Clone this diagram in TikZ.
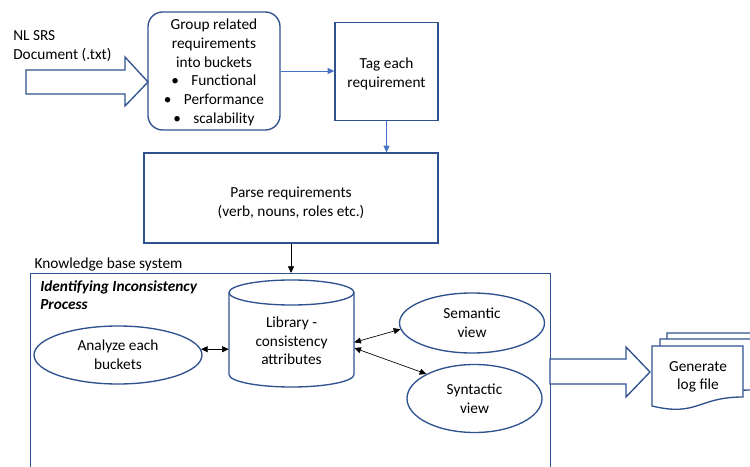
\documentclass[tikz,border=0pt]{standalone}
\usepackage{fontspec}
\setmainfont{Carlito}
\usetikzlibrary{arrows.meta,shapes.geometric,positioning}
\newdimen\pxu \pxu=0.75pt
\definecolor{boxblue}{RGB}{47,82,143}
\definecolor{linkblue}{RGB}{68,114,196}
\tikzset{
  box/.style={draw=boxblue, line width=1pt, align=center, inner sep=0pt},
  oval/.style={ellipse, draw=boxblue, line width=1pt, align=center, inner sep=0pt},
  bluelink/.style={-{Triangle[length=5pt,width=4.5pt]}, draw=linkblue, line width=0.6pt},
  blacklink/.style={-{Triangle[length=5pt,width=4.5pt]}, line width=0.5pt},
  bothlink/.style={{Triangle[length=5pt,width=4.5pt]}-{Triangle[length=5pt,width=4.5pt]}, line width=0.5pt},
  hollow/.style={draw=boxblue, line width=1pt, fill=white},
}
\begin{document}
\begin{tikzpicture}[x=0.75pt, y=-0.75pt, font=\fontsize{11.5}{14}\selectfont]
    \clip (0,0) rectangle (750,467);
    \fill[white] (0,0) rectangle (750,467);

    % Input document and big input arrow
    \node[anchor=west, align=left, inner sep=0pt] (srs) at (13,46) {NL SRS\\Document (.txt)};
    \draw[hollow] (26,70) -- (125,70) -- (125,57) -- (148,82) -- (125,106) -- (125,94) -- (26,94) -- cycle;

    % Upper flow
    \node[box, rounded corners=11pt, minimum width=132\pxu, minimum height=118\pxu] (group) at (214,71) {};
    \node[align=center, inner sep=0pt] (grouptext) at (214,72.5)
        {Group related\\requirements\\into buckets\\\textbullet\hspace{0.8em}Functional\\\textbullet\hspace{0.8em}Performance\\\textbullet\hspace{0.8em}scalability};
    \node[box, minimum width=103\pxu, minimum height=98\pxu] (tag) at (386.5,71.5) {};
    \node[align=center, inner sep=0pt] (tagtext) at (386.5,74) {Tag each\\requirement};
    \node[box, minimum width=294\pxu, minimum height=90\pxu] (parse) at (291,198) {};
    \node[align=center, inner sep=0pt] (parsetext) at (291,203) {Parse requirements\\(verb, nouns, roles etc.)};

    \draw[bluelink] (group.east) -- (group.east -| tag.west);
    \draw[bluelink] (tag.south) -- (tag.south |- parse.north);

    % Knowledge base system
    \node[draw=boxblue, line width=1pt, minimum width=520\pxu, minimum height=220\pxu, anchor=north west, inner sep=0pt] (kb) at (30,273) {};
    \node[anchor=south west, inner sep=1pt, xshift=3\pxu] (kblabel) at (kb.north west) {Knowledge base system};
    \draw[blacklink] (parse.south) -- (parse.south |- kb.north);

    \node[anchor=north west, align=left, inner sep=0pt, font=\fontsize{11.5}{14}\selectfont\bfseries\itshape] (process) at (40,280)
        {Identifying Inconsistency\\Process};

    % Library cylinder
    \node[minimum width=125\pxu, minimum height=107\pxu, inner sep=0pt] (lib) at (291.5,333.5) {};
    \draw[hollow] (229,292.5) -- (229,374.5) arc[start angle=180, end angle=0, x radius=62.5, y radius=12.5] -- (354,292.5);
    \draw[hollow] (291.5,292.5) ellipse [x radius=62.5, y radius=12.5];
    \node[align=center, inner sep=0pt] (libtext) at (291.5,341) {Library -\\consistency\\attributes};

    \node[oval, minimum width=168\pxu, minimum height=58\pxu] (analyze) at (118,355) {Analyze each\\buckets};
    \node[oval, minimum width=145\pxu, minimum height=60\pxu] (semantic) at (472,323) {Semantic\\view};
    \node[oval, minimum width=135\pxu, minimum height=68\pxu] (syntactic) at (474.5,398.5) {Syntactic\\view};

    \draw[bothlink] (analyze.4) -- (analyze.4 -| lib.west);
    \draw[bothlink] (lib.-8) -- (semantic.185);
    \draw[bothlink] (lib.-13) -- (syntactic.153);

    % Output arrow and log file
    \draw[hollow] (550,359) -- (626,359) -- (626,347) -- (650,372) -- (626,397) -- (626,384) -- (550,384) -- cycle;
    \foreach \dx/\dy in {15/-13, 8/-7, 0/0}
        \draw[hollow, shift={(\dx,\dy)}] (652,346) -- (743,346) -- (743,397) .. controls (697.5,397) and (697.5,417) .. (652,406) -- cycle;
    \node[align=center, inner sep=0pt] (logfile) at (698,377) {Generate\\log file};
\end{tikzpicture}
\end{document}
